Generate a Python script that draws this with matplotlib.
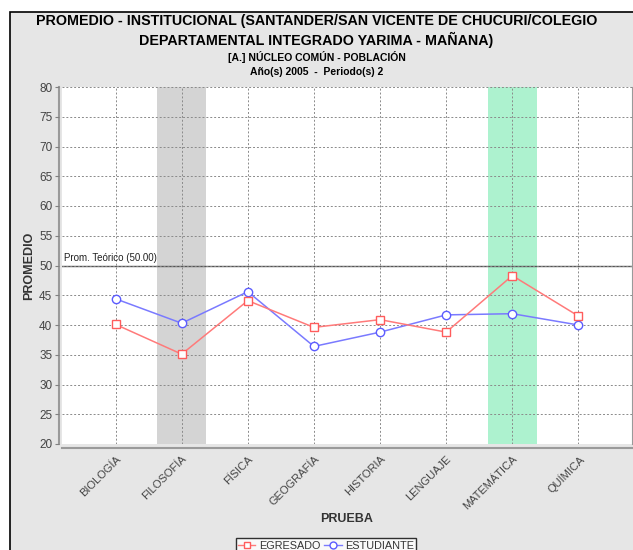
import matplotlib.pyplot as plt
from matplotlib.lines import Line2D
from matplotlib.patches import Rectangle

plt.rcParams['font.family'] = ['Liberation Sans', 'DejaVu Sans']

categorias = ['BIOLOGÍA', 'FILOSOFÍA', 'FÍSICA', 'GEOGRAFÍA', 'HISTORIA',
              'LENGUAJE', 'MATEMÁTICA', 'QUÍMICA']
egresado = [40.1, 35.1, 44.1, 39.6, 40.9, 38.8, 48.3, 41.5]
estudiante = [44.4, 40.3, 45.6, 36.4, 38.8, 41.7, 41.9, 40.0]
prom_teorico = 50.0
banda_gris = 'FILOSOFÍA'
banda_verde = 'MATEMÁTICA'

W, H = 633, 550
fig = plt.figure(figsize=(W / 100, H / 100), dpi=100, facecolor='white')

# fondo gris con borde negro (como el panel de JFreeChart)
fig.patches.append(Rectangle((10 / W, -0.1), 1.1, 1 - 12 / H + 0.1,
                             transform=fig.transFigure, facecolor='#e6e6e6',
                             edgecolor='black', lw=1.2, zorder=-5))

ax = fig.add_axes([62 / W, 1 - 444 / H, 570 / W, 357 / H])
ax.set_zorder(2)
ax.set_facecolor('white')

x = list(range(len(categorias)))

# bandas resaltadas
for cat, col in [(banda_gris, '#d4d4d4'), (banda_verde, '#adf2cf')]:
    i = categorias.index(cat)
    ax.axvspan(i - 0.375, i + 0.375, color=col, zorder=0, lw=0)

ax.grid(True, color='#8a8a8a', linestyle=(0, (2, 2)), lw=0.7, zorder=1)
ax.set_axisbelow(False)

# linea de promedio teorico
ax.axhline(prom_teorico, color='#555555', lw=1.0, zorder=2)
ax.text(-0.78, prom_teorico + 0.5, 'Prom. Teórico (50.00)', fontsize=7,
        color='#222222', va='bottom', ha='left')

ax.plot(x, egresado, color='#ff7a7a', lw=1.1, marker='s', ms=6,
        mfc='white', mec='#ff5c5c', mew=1.0, zorder=4)
ax.plot(x, estudiante, color='#7a7aff', lw=1.1, marker='o', ms=6,
        mfc='white', mec='#5c5cff', mew=1.0, zorder=3)

ax.set_xlim(-0.81, 7.81)
ax.set_ylim(20, 80)
ax.set_yticks(range(20, 81, 5))
ax.set_xticks(x, categorias)
ax.tick_params(axis='x', length=0, pad=4, labelsize=8, labelcolor='#444444',
               labelrotation=45)
ax.tick_params(axis='y', length=3, width=0.8, color='#808080', pad=2,
               labelsize=8.5, labelcolor='#444444')

ax.spines['top'].set_visible(False)
ax.spines['right'].set_color('#9a9a9a')
ax.spines['right'].set_linewidth(0.8)
ax.spines['left'].set_position(('outward', 2))
ax.spines['left'].set_color('#9a9a9a')
ax.spines['left'].set_linewidth(1.5)
ax.spines['bottom'].set_position(('outward', 3))
ax.spines['bottom'].set_color('#9a9a9a')
ax.spines['bottom'].set_linewidth(1.5)

ax.set_ylabel('PROMEDIO', fontsize=9, fontweight='bold', color='#333333',
              labelpad=3)
ax.set_xlabel('PRUEBA', fontsize=9, fontweight='bold', color='#333333',
              va='center')
ax.xaxis.set_label_coords(0.5, (444 - 519) / 357)

# titulos
fig.text(0.5, 1 - 21 / H, 'PROMEDIO - INSTITUCIONAL (SANTANDER/SAN VICENTE DE CHUCURI/COLEGIO',
         ha='center', va='center', fontsize=10.3, fontweight='bold')
fig.text(0.5, 1 - 40 / H, 'DEPARTAMENTAL INTEGRADO YARIMA - MAÑANA)',
         ha='center', va='center', fontsize=10.3, fontweight='bold')
fig.text(0.5, 1 - 57 / H, '[A.] NÚCLEO COMÚN - POBLACIÓN',
         ha='center', va='center', fontsize=7.5, fontweight='bold')
fig.text(0.5, 1 - 72 / H, 'Año(s) 2005  -  Periodo(s) 2',
         ha='center', va='center', fontsize=7.5, fontweight='bold')

handles = [
    Line2D([], [], color='#ff7a7a', lw=1, marker='s', ms=5, mfc='white', mec='#ff5c5c'),
    Line2D([], [], color='#7a7aff', lw=1, marker='o', ms=5, mfc='white', mec='#5c5cff'),
]
leg = fig.legend(handles, ['EGRESADO', 'ESTUDIANTE'], loc='upper center',
                 bbox_to_anchor=(326 / W, 1 - 533 / H), ncol=2, frameon=True,
                 fontsize=7.8, handlelength=1.6, handletextpad=0.3,
                 columnspacing=0.4, borderpad=0.2, fancybox=False,
                 labelcolor='#333333')
leg.get_frame().set_edgecolor('black')
leg.get_frame().set_facecolor('white')
leg.get_frame().set_linewidth(1)

# etiquetas de categoria giradas, ancladas en su extremo derecho
fig.canvas.draw()
for lbl in ax.get_xticklabels():
    lbl.set_rotation(45)
    lbl.set_horizontalalignment('right')
    lbl.set_rotation_mode('anchor')

fig.savefig('out.png', dpi=100, facecolor='white')
